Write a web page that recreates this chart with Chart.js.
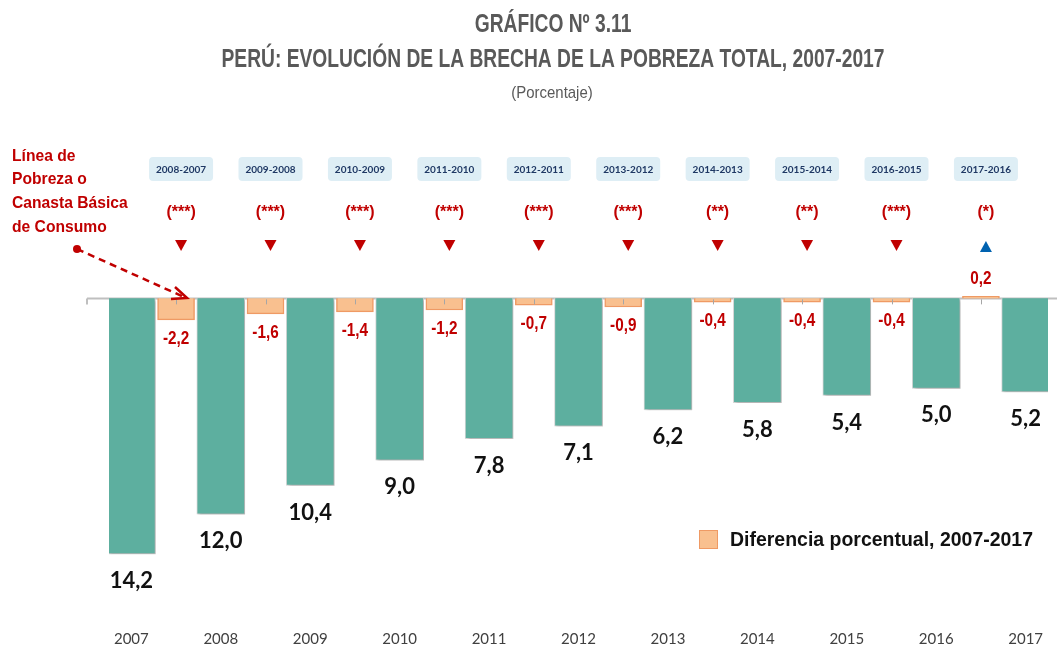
<!DOCTYPE html>
<html>
<head>
<meta charset="utf-8">
<script src="https://cdn.jsdelivr.net/npm/chart.js@4.4.1/dist/chart.umd.min.js"></script>
<style>
    html, body { margin: 0; padding: 0; background: #fff; }
    #wrap { width: 1057px; height: 646px; }
</style>
</head>
<body>
<div id="wrap"><canvas id="brechaChart" width="1057" height="646"></canvas></div>
<script>
const anios = ['2007', '2008', '2009', '2010', '2011', '2012', '2013', '2014', '2015', '2016', '2017'];
const brecha = [14.2, 12.0, 10.4, 9.0, 7.8, 7.1, 6.2, 5.8, 5.4, 5.0, 5.2];
const periodos = ['2008-2007', '2009-2008', '2010-2009', '2011-2010', '2012-2011', '2013-2012', '2014-2013', '2015-2014', '2016-2015', '2017-2016'];
const diferencias = [-2.2, -1.6, -1.4, -1.2, -0.7, -0.9, -0.4, -0.4, -0.4, 0.2];
const significancia = ['(***)', '(***)', '(***)', '(***)', '(***)', '(***)', '(**)', '(**)', '(***)', '(*)'];

const ROJO = '#c00000';
const GRIS = '#595959';
const SANS = '"Liberation Sans", Arial, sans-serif';

// una ranura por año y otra entre años para la diferencia
const etiquetas = [];
const barrasBrecha = [];
const barrasDif = [];
anios.forEach(function (a, i) {
    etiquetas.push(a);
    barrasBrecha.push(-brecha[i]);
    barrasDif.push(null);
    if (i < diferencias.length) {
        etiquetas.push('');
        barrasBrecha.push(null);
        barrasDif.push(diferencias[i]);
    }
});

function coma(v) {
    return v.toFixed(1).replace('.', ',');
}

// no hay fuente condensada instalada: se estrecha el texto a mano
function angosto(ctx, texto, x, y, escala) {
    ctx.save();
    ctx.translate(x, y);
    ctx.scale(escala, 1);
    ctx.fillText(texto, 0, 0);
    ctx.restore();
}

const adornos = {
    id: 'adornos',
    beforeDatasetsDraw: function (chart) {
        const ctx = chart.ctx;
        const y0 = Math.round(chart.scales.y.getPixelForValue(0)) + 0.5;
        ctx.save();
        ctx.strokeStyle = '#bfbfbf';
        ctx.lineWidth = 2;
        ctx.beginPath();
        ctx.moveTo(87, y0);
        ctx.lineTo(1057, y0);
        ctx.moveTo(87, y0);
        ctx.lineTo(87, y0 + 6);
        ctx.stroke();
        ctx.restore();
    },
    beforeDatasetDraw: function (chart, args) {
        if (args.index !== 0) return;
        const ctx = chart.ctx;
        ctx.save();
        ctx.shadowColor = 'rgba(0, 0, 0, 0.22)';
        ctx.shadowBlur = 3;
        ctx.shadowOffsetX = 2;
        ctx.shadowOffsetY = 2;
    },
    afterDatasetDraw: function (chart, args) {
        if (args.index !== 0) return;
        chart.ctx.restore();
    },
    afterDatasetsDraw: function (chart) {
        const ctx = chart.ctx;
        const y0 = chart.scales.y.getPixelForValue(0);
        ctx.save();
        ctx.textAlign = 'center';
        ctx.textBaseline = 'middle';

        // etiquetas de la brecha
        ctx.fillStyle = '#111';
        ctx.font = 'bold 22px Lato, "Open Sans", sans-serif';
        chart.getDatasetMeta(0).data.forEach(function (bar, i) {
            if (barrasBrecha[i] === null) return;
            ctx.fillText(coma(-barrasBrecha[i]), bar.x, bar.y + 27);
        });

        // etiquetas de la diferencia
        ctx.fillStyle = ROJO;
        ctx.font = 'bold 18px ' + SANS;
        chart.getDatasetMeta(1).data.forEach(function (bar, i) {
            const v = barrasDif[i];
            if (v === null) return;
            angosto(ctx, coma(v), bar.x, v < 0 ? bar.y + 19 : bar.y - 17, 0.85);
        });

        // recuadros de periodo, significancia y flechas
        const x = chart.scales.x;
        let k = 0;
        barrasDif.forEach(function (v, i) {
            if (v === null) return;
            const cx = x.getPixelForValue(i) + 5;
            ctx.fillStyle = '#deeef5';
            ctx.beginPath();
            ctx.roundRect(cx - 32, 157, 64, 24, 4);
            ctx.fill();
            ctx.fillStyle = '#1f3864';
            ctx.font = 'bold 10px Lato, sans-serif';
            ctx.fillText(periodos[k], cx, 169.5);

            ctx.fillStyle = ROJO;
            ctx.font = 'bold 16px ' + SANS;
            ctx.fillText(significancia[k], cx, 213);

            ctx.beginPath();
            if (v < 0) {
                ctx.fillStyle = ROJO;
                ctx.moveTo(cx - 6, 240);
                ctx.lineTo(cx + 6, 240);
                ctx.lineTo(cx, 251);
            } else {
                ctx.fillStyle = '#0062b0';
                ctx.moveTo(cx - 6, 252);
                ctx.lineTo(cx + 6, 252);
                ctx.lineTo(cx, 241);
            }
            ctx.closePath();
            ctx.fill();

            // pequeña marca del eje
            ctx.strokeStyle = '#a6a6a6';
            ctx.lineWidth = 1;
            ctx.beginPath();
            ctx.moveTo(Math.round(cx - 5) + 0.5, y0 + 1);
            ctx.lineTo(Math.round(cx - 5) + 0.5, y0 + 6);
            ctx.stroke();
            k++;
        });
        ctx.restore();
    },
    afterDraw: function (chart) {
        const ctx = chart.ctx;
        ctx.save();
        ctx.textAlign = 'center';
        ctx.textBaseline = 'middle';
        ctx.fillStyle = GRIS;
        ctx.font = 'bold 25px ' + SANS;
        const t2 = 'PERÚ: EVOLUCIÓN DE LA BRECHA DE LA POBREZA TOTAL, 2007-2017';
        const e = 663 / ctx.measureText(t2).width;
        angosto(ctx, 'GRÁFICO Nº 3.11', 553, 25, e);
        angosto(ctx, t2, 553, 60, e);
        ctx.font = '17px ' + SANS;
        angosto(ctx, '(Porcentaje)', 552, 93, 0.88);

        // nota de la izquierda
        ctx.textAlign = 'left';
        ctx.fillStyle = ROJO;
        ctx.font = 'bold 17px ' + SANS;
        ['Línea de', 'Pobreza o', 'Canasta Básica', 'de Consumo'].forEach(function (t, i) {
            angosto(ctx, t, 12, 156 + i * 23.7, 0.92);
        });
        ctx.beginPath();
        ctx.arc(77, 249, 4, 0, Math.PI * 2);
        ctx.fill();
        ctx.strokeStyle = ROJO;
        ctx.lineWidth = 2.5;
        ctx.setLineDash([7, 5]);
        ctx.beginPath();
        ctx.moveTo(77, 249);
        ctx.lineTo(184, 297);
        ctx.stroke();
        ctx.setLineDash([]);
        ctx.beginPath();
        ctx.moveTo(175, 287);
        ctx.lineTo(187, 298);
        ctx.lineTo(171, 299);
        ctx.stroke();

        // leyenda
        ctx.fillStyle = '#f9c08f';
        ctx.strokeStyle = '#ef9a64';
        ctx.lineWidth = 1;
        ctx.fillRect(699, 530, 19, 19);
        ctx.strokeRect(699.5, 530.5, 18, 18);
        ctx.fillStyle = '#111';
        ctx.font = 'bold 21px ' + SANS;
        const ley = 'Diferencia porcentual, 2007-2017';
        angosto(ctx, ley, 730, 540, 303 / ctx.measureText(ley).width);
        ctx.restore();
    }
};

new Chart(document.getElementById('brechaChart').getContext('2d'), {
    type: 'bar',
    data: {
        labels: etiquetas,
        datasets: [{
            label: 'Brecha de la pobreza',
            data: barrasBrecha,
            yAxisID: 'y',
            grouped: false,
            barThickness: 48,
            backgroundColor: '#5daf9f',
            borderColor: '#d9d9d9',
            borderWidth: 1
        }, {
            label: 'Diferencia porcentual, 2007-2017',
            data: barrasDif,
            yAxisID: 'y2',
            grouped: false,
            barThickness: 37,
            backgroundColor: '#f9c08f',
            borderColor: '#ef9a64',
            borderWidth: 1.5
        }]
    },
    options: {
        responsive: false,
        animation: false,
        layout: { padding: { left: 109, right: 9, top: 110, bottom: -8 } },
        plugins: {
            legend: { display: false },
            title: { display: false },
            tooltip: { enabled: false }
        },
        scales: {
            x: {
                grid: { display: false, drawTicks: false },
                border: { display: false },
                ticks: {
                    autoSkip: false,
                    maxRotation: 0,
                    padding: 6,
                    color: '#404040',
                    font: { family: 'Lato, "Open Sans", sans-serif', size: 15 }
                }
            },
            y: { display: false, min: -18.1, max: 10.47 },
            y2: { display: false, min: -33.2, max: 19.18 }
        }
    },
    plugins: [adornos]
});
</script>
</body>
</html>
